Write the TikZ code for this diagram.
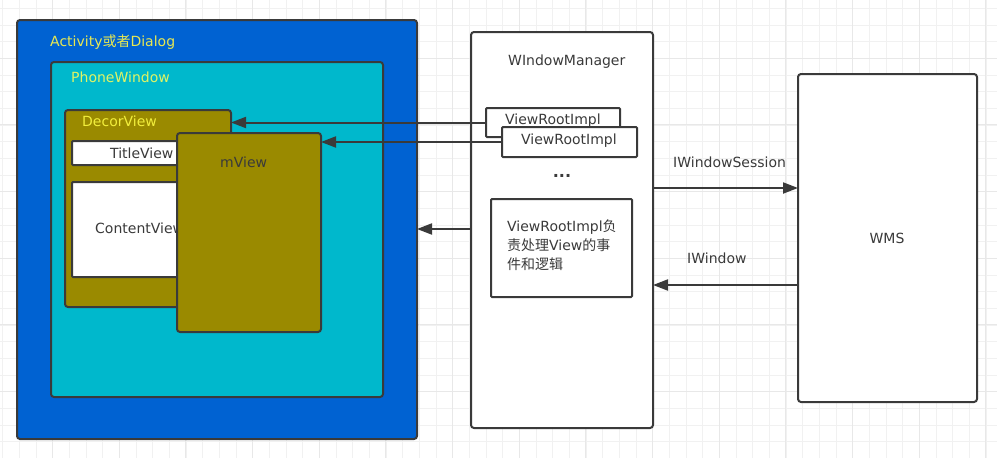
\documentclass[tikz,border=0pt]{standalone}
\usepackage{fontspec}
\setmainfont{DejaVu Sans}
\newfontfamily\cjk{Noto Sans CJK SC}
\usetikzlibrary{arrows.meta}
\definecolor{actblue}{HTML}{0062D2}
\definecolor{pwcyan}{HTML}{00B8CC}
\definecolor{olive}{HTML}{9A8A00}
\definecolor{edge}{HTML}{3A3A3A}
\definecolor{txt}{HTML}{3A3A3A}
\definecolor{ylw}{HTML}{E8E852}
\definecolor{ylw2}{HTML}{E0F464}
\definecolor{ylw3}{HTML}{F2EE3C}
\definecolor{gridminor}{HTML}{F1F1F1}
\definecolor{gridmajor}{HTML}{E8E8E8}
\tikzset{
  boxbase/.style={draw=edge, line width=2pt, rounded corners=3pt, anchor=north west, inner sep=0pt, outer sep=0pt},
  lbl/.style={font=\fontsize{14}{17}\selectfont, text=txt, inner sep=0pt},
  conn/.style={draw=edge, line width=2pt, -{Triangle[length=15pt,width=11pt]}},
}
\begin{document}
\begin{tikzpicture}[x=1pt,y=-1pt]
\useasboundingbox (0,0) rectangle (997,458);
\fill[white] (0,0) rectangle (997,458);
% grid
\foreach \i in {0,...,59} \draw[gridminor, line width=0.8pt] ({2.6+\i*16.667},0) -- ({2.6+\i*16.667},458);
\foreach \i in {0,...,27} \draw[gridminor, line width=0.8pt] (0,{8.3+\i*16.667}) -- (997,{8.3+\i*16.667});
\foreach \i in {3,7,...,59} \draw[gridmajor, line width=1pt] ({2.6+\i*16.667},0) -- ({2.6+\i*16.667},458);
\foreach \i in {3,7,...,27} \draw[gridmajor, line width=1pt] (0,{8.3+\i*16.667}) -- (997,{8.3+\i*16.667});

% left group
\node[boxbase, fill=actblue, minimum width=400pt, minimum height=419pt] (act) at (17,20) {};
\node[lbl, text=ylw, anchor=west] (actlbl) at (50,42) {Activity{\cjk 或者}Dialog};
\node[boxbase, fill=pwcyan, minimum width=332pt, minimum height=335pt] (pw) at (51,62) {};
\node[lbl, text=ylw2, anchor=west] (pwlbl) at (71,77) {PhoneWindow};
\node[boxbase, fill=olive, minimum width=166pt, minimum height=197pt] (decor) at (65,110) {};
\node[lbl, text=ylw3, anchor=west] (decorlbl) at (82,121) {DecorView};
\node[boxbase, fill=white, minimum width=113pt, minimum height=24pt, rounded corners=1pt] (title) at (72,141) {};
\node[lbl, anchor=west] (titlelbl) at (110,153) {TitleView};
\node[boxbase, fill=white, minimum width=108pt, minimum height=95pt, rounded corners=1pt] (content) at (72,182) {};
\node[lbl, anchor=west] (contentlbl) at (95,228) {ContentView};
\node[boxbase, fill=olive, minimum width=144pt, minimum height=199pt] (mview) at (177,133) {};
\node[lbl, anchor=west] (mviewlbl) at (220,162) {mView};

% window manager
\node[boxbase, fill=white, minimum width=182pt, minimum height=396pt] (wm) at (471,32) {};
\node[lbl, anchor=west] (wmlbl) at (508,62) {WIndowManager};
\node[boxbase, fill=white, minimum width=134pt, minimum height=29pt, rounded corners=1pt] (vri1) at (486,108) {};
\node[lbl, anchor=west] (vri1lbl) at (505,121) {ViewRootImpl};
\node[boxbase, fill=white, minimum width=135pt, minimum height=30pt, rounded corners=1pt] (vri2) at (502,127) {};
\node[lbl, anchor=west] (vri2lbl) at (521,141) {ViewRootImpl};
\node[lbl, font=\fontsize{16}{18}\selectfont\bfseries] (dots) at (562,176) {...};
\node[boxbase, fill=white, minimum width=141pt, minimum height=98pt, rounded corners=1pt] (vrid) at (491,199) {};
\node[lbl, align=left, anchor=north west, font=\fontsize{14}{19}\selectfont] (vridlbl) at (507,220) {ViewRootImpl{\cjk 负}\\{\cjk 责处理}View{\cjk 的事}\\{\cjk 件和逻辑}};

% WMS
\node[boxbase, fill=white, minimum width=179pt, minimum height=328pt] (wms) at (798,74) {};
\node[lbl] (wmslbl) at (887,238) {WMS};

% connectors
\draw[conn] (vri1.west) -- (vri1.west -| decor.east);
\draw[conn] (vri2.west) -- (vri2.west -| mview.east);
\draw[conn] (wm.west |- 0,229) -- (act.east |- 0,229);
\draw[conn] (wm.east |- 0,188) -- (wms.west |- 0,188);
\draw[conn] (wms.west |- 0,285) -- (wm.east |- 0,285);
\node[lbl, anchor=west] (iwslbl) at (673,162) {IWindowSession};
\node[lbl, anchor=west] (iwlbl) at (687,258) {IWindow};
\end{tikzpicture}
\end{document}
